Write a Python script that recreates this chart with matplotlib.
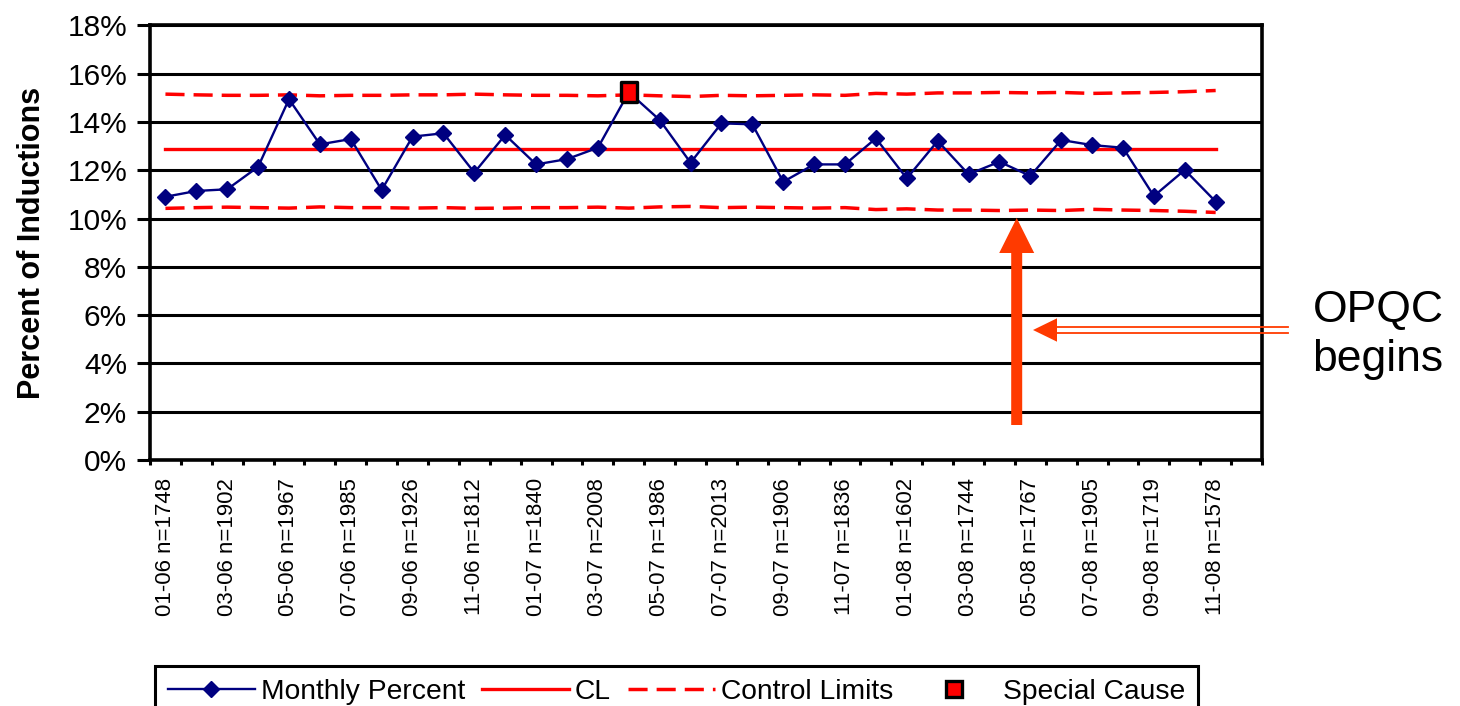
import numpy as np
import matplotlib
matplotlib.use('Agg')
import matplotlib.pyplot as plt
from matplotlib.lines import Line2D
from matplotlib.patches import Polygon

plt.rcParams['font.family'] = ['Liberation Sans', 'DejaVu Sans']

# ---------------- data ----------------
months = ['01-06', '02-06', '03-06', '04-06', '05-06', '06-06', '07-06', '08-06', '09-06',
          '10-06', '11-06', '12-06', '01-07', '02-07', '03-07', '04-07', '05-07', '06-07',
          '07-07', '08-07', '09-07', '10-07', '11-07', '12-07', '01-08', '02-08', '03-08',
          '04-08', '05-08', '06-08', '07-08', '08-08', '09-08', '10-08', '11-08', '12-08']
tick_labels = ['01-06 n=1748', '03-06 n=1902', '05-06 n=1967', '07-06 n=1985',
               '09-06 n=1926', '11-06 n=1812', '01-07 n=1840', '03-07 n=2008',
               '05-07 n=1986', '07-07 n=2013', '09-07 n=1906', '11-07 n=1836',
               '01-08 n=1602', '03-08 n=1744', '05-08 n=1767', '07-08 n=1905',
               '09-08 n=1719', '11-08 n=1578']
monthly_percent = [10.90, 11.14, 11.21, 12.14, 14.94, 13.07, 13.29, 11.18, 13.39, 13.53,
                   11.90, 13.46, 12.24, 12.46, 12.93, 15.23, 14.08, 12.31, 13.94, 13.90,
                   11.52, 12.24, 12.24, 13.32, 11.66, 13.21, 11.83, 12.35, 11.76, 13.25,
                   13.04, 12.93, 10.93, 12.01, 10.70]
center_line = [12.87, 12.87, 12.87, 12.87, 12.87, 12.87, 12.87, 12.87, 12.87, 12.87,
               12.87, 12.87, 12.87, 12.87, 12.87, 12.87, 12.87, 12.87, 12.87, 12.87,
               12.87, 12.87, 12.87, 12.87, 12.87, 12.87, 12.87, 12.87, 12.87, 12.87,
               12.87, 12.87, 12.87, 12.87, 12.87]
upper_limit = [15.15, 15.12, 15.10, 15.10, 15.12, 15.08, 15.10, 15.10, 15.12, 15.12,
               15.15, 15.12, 15.10, 15.10, 15.08, 15.12, 15.08, 15.05, 15.10, 15.08,
               15.10, 15.12, 15.10, 15.18, 15.15, 15.20, 15.20, 15.22, 15.20, 15.22,
               15.18, 15.20, 15.22, 15.25, 15.30]
lower_limit = [10.42, 10.45, 10.47, 10.45, 10.43, 10.48, 10.45, 10.45, 10.43, 10.45,
               10.42, 10.43, 10.45, 10.45, 10.47, 10.43, 10.48, 10.50, 10.45, 10.47,
               10.45, 10.43, 10.45, 10.37, 10.40, 10.35, 10.35, 10.33, 10.35, 10.33,
               10.38, 10.35, 10.33, 10.30, 10.25]
special_cause_months = ['04-07']
y_ticks = [0, 2, 4, 6, 8, 10, 12, 14, 16, 18]

# ---------------- figure ----------------
W, H = 1460, 706
fig = plt.figure(figsize=(W / 100, H / 100), dpi=100)
ax = fig.add_axes([150 / W, 1 - 460 / H, (1262 - 150) / W, (460 - 25.3) / H])

x = np.arange(len(monthly_percent))
navy = '#000080'
red = '#FF0000'
tall_box = [(-0.39, -0.5), (0.39, -0.5), (0.39, 0.5), (-0.39, 0.5), (-0.39, -0.5)]

ax.plot(x, center_line, color=red, lw=2.4, zorder=3)
ax.plot(x, upper_limit, color=red, lw=2.5, dashes=(5.5, 2.6), zorder=3)
ax.plot(x, lower_limit, color=red, lw=2.5, dashes=(5.5, 2.6), zorder=3)
ax.plot(x, monthly_percent, color=navy, lw=1.7, marker='D', ms=8.5, mfc=navy, mec=navy,
        zorder=5)

sc_x = [months.index(m) for m in special_cause_months]
sc_y = [monthly_percent[i] for i in sc_x]
ax.plot(sc_x, sc_y, ls='none', marker=tall_box, ms=14, mfc=red, mec='black', mew=2.4,
        zorder=6)

ax.set_xlim(-0.5, len(months) - 0.5)
ax.set_ylim(0, 18)
ax.set_yticks(y_ticks)
ax.set_yticklabels([f'{v}%' for v in y_ticks], fontsize=21.5)
ax.yaxis.grid(True, color='black', lw=2.2)
ax.set_axisbelow(True)
ax.tick_params(axis='y', direction='out', length=9.4, width=2.2, pad=7, colors='black')

ax.set_xticks(np.arange(0, len(months), 2))
ax.set_xticklabels(tick_labels, rotation=90, fontsize=16, va='top', ha='center')
ax.set_xticks(np.arange(-0.5, len(months), 1), minor=True)
ax.tick_params(axis='x', which='major', length=0, pad=13)
ax.tick_params(axis='x', which='minor', direction='out', length=3.6, width=2.2)

for s in ax.spines.values():
    s.set_color('black')
    s.set_linewidth(2.6)

ax.set_ylabel('Percent of Inductions', fontsize=22, fontweight='bold', labelpad=15)

# ---------------- legend ----------------
handles = [
    Line2D([], [], color=navy, lw=1.7, marker='D', ms=8.5),
    Line2D([], [], color=red, lw=2.4),
    Line2D([], [], color=red, lw=2.5, dashes=(5.5, 2.6)),
    Line2D([], [], ls='none', marker='s', ms=12, mfc=red, mec='black', mew=2.4),
]
labels = ['Monthly Percent', 'CL', 'Control Limits', 'Special Cause']
leg = fig.legend(handles, labels, loc='upper left',
                 bbox_to_anchor=(155 / W, 1 - 666 / H), bbox_transform=fig.transFigure,
                 ncol=4, fontsize=20.3, handlelength=3.1, handletextpad=0.2,
                 columnspacing=0.6, frameon=True, fancybox=False, borderaxespad=0,
                 borderpad=0.45)
leg.get_frame().set_edgecolor('black')
leg.get_frame().set_linewidth(2.2)
leg.get_frame().set_alpha(1)

# ---------------- annotation arrows ----------------
orange = '#FF3A00'

def fp(px, py):
    return (px / W, 1 - py / H)

vert = [fp(1016.7, 218), fp(1034.2, 253), fp(1022.2, 253), fp(1022.2, 425),
        fp(1011.2, 425), fp(1011.2, 253), fp(999.2, 253)]
fig.add_artist(Polygon(vert, closed=True, transform=fig.transFigure,
                       facecolor=orange, edgecolor='none', zorder=10))

head = [fp(1033, 330), fp(1057, 318.3), fp(1057, 341.7)]
fig.add_artist(Polygon(head, closed=True, transform=fig.transFigure,
                       facecolor=orange, edgecolor='none', zorder=10))
for yy in (326.7, 332.9):
    p0, p1 = fp(1055, yy), fp(1288, yy)
    fig.add_artist(Line2D([p0[0], p1[0]], [p0[1], p1[1]], transform=fig.transFigure,
                          color=orange, lw=1.3, zorder=10))

fig.text(1378 / W, 1 - 335 / H, 'OPQC\nbegins', fontsize=32, ha='center', va='center',
         linespacing=1.25, color='black')

fig.savefig('out.png', dpi=100)
